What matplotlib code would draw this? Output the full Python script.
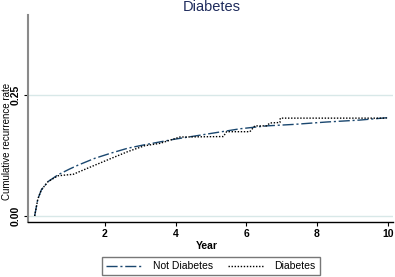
import matplotlib
matplotlib.use("Agg")
import matplotlib.pyplot as plt

plt.rcParams['font.family'] = ['Liberation Sans', 'DejaVu Sans']

title = "Diabetes"
xlabel = "Year"
ylabel = "Cumulative recurrence rate"
series_names = ["Not Diabetes", "Diabetes"]

not_diab_x = [0.01, 0.1, 0.2, 0.39, 0.67, 1.0, 1.24, 1.71, 2.18, 2.65, 3.12, 3.93,
              4.88, 5.82, 6.57, 7.33, 8.27, 9.21, 10.01]
not_diab_y = [0.0, 0.035, 0.054, 0.071, 0.085, 0.097, 0.105, 0.119, 0.130, 0.140,
              0.147, 0.158, 0.169, 0.180, 0.186, 0.189, 0.194, 0.198, 0.203]

diab_x = [0.01, 0.1, 0.2, 0.39, 0.67, 0.95, 1.1, 1.52, 2.18, 2.65, 3.12, 3.56, 4.12,
          5.35, 5.44, 6.1, 6.24, 6.57, 6.67, 6.95, 6.96, 9.97]
diab_y = [0.0, 0.035, 0.054, 0.071, 0.083, 0.085, 0.086, 0.099, 0.119, 0.133, 0.145,
          0.150, 0.163, 0.164, 0.174, 0.174, 0.186, 0.186, 0.192, 0.193, 0.202, 0.202]

xticks = [2, 4, 6, 8, 10]
yticks = [0.0, 0.25]
ytick_labels = ["0.00", "0.25"]

fig = plt.figure(figsize=(3.95, 2.77), dpi=100)
ax = fig.add_axes([0.0709, 0.1986, 0.924, 0.7474])

ax.axhline(0.0, color='#d8e8e8', lw=1.0, zorder=0)
ax.axhline(0.25, color='#d8e8e8', lw=1.0, zorder=0)

ax.plot(not_diab_x, not_diab_y, color='#1a476f', lw=1.0, ls=(0, (8, 2, 1.5, 2)),
        label=series_names[0])
ax.plot(diab_x, diab_y, color='black', lw=1.0, ls=(0, (1, 1.2)),
        label=series_names[1])

ax.set_xlim(-0.178, 10.15)
ax.set_ylim(-0.0124, 0.415)
ax.set_xticks(xticks)
ax.set_xticklabels([str(t) for t in xticks], fontsize=7.5, fontweight='bold')
ax.set_yticks(yticks)
ax.set_yticklabels(ytick_labels, fontsize=7.5, fontweight='bold', rotation=90, va='center')

for s in ['top', 'right']:
    ax.spines[s].set_visible(False)
ax.spines['left'].set_color('#8a8a8a')
ax.spines['left'].set_linewidth(1.5)
ax.spines['bottom'].set_color('black')
ax.spines['bottom'].set_linewidth(1.0)
ax.tick_params(axis='both', length=3, width=0.8, pad=2)

ax.set_xlabel(xlabel, fontsize=7.5, fontweight='bold')
ax.xaxis.set_label_coords(0.49, -0.09)
ax.set_ylabel(ylabel, fontsize=7)
ax.yaxis.set_label_coords(-0.043, 0.39)
fig.suptitle(title, x=0.535, y=1.0, fontsize=10.5, color='#1e2b5c')

leg = fig.legend(loc='upper center', bbox_to_anchor=(0.534, 0.072), ncol=2,
                 fontsize=7.5, frameon=True, fancybox=False, handlelength=3.5,
                 handletextpad=1.0, columnspacing=1.4, borderpad=0.4,
                 borderaxespad=0)
leg.get_frame().set_edgecolor('#555555')
leg.get_frame().set_linewidth(1.0)

fig.savefig("out.png", dpi=100)
